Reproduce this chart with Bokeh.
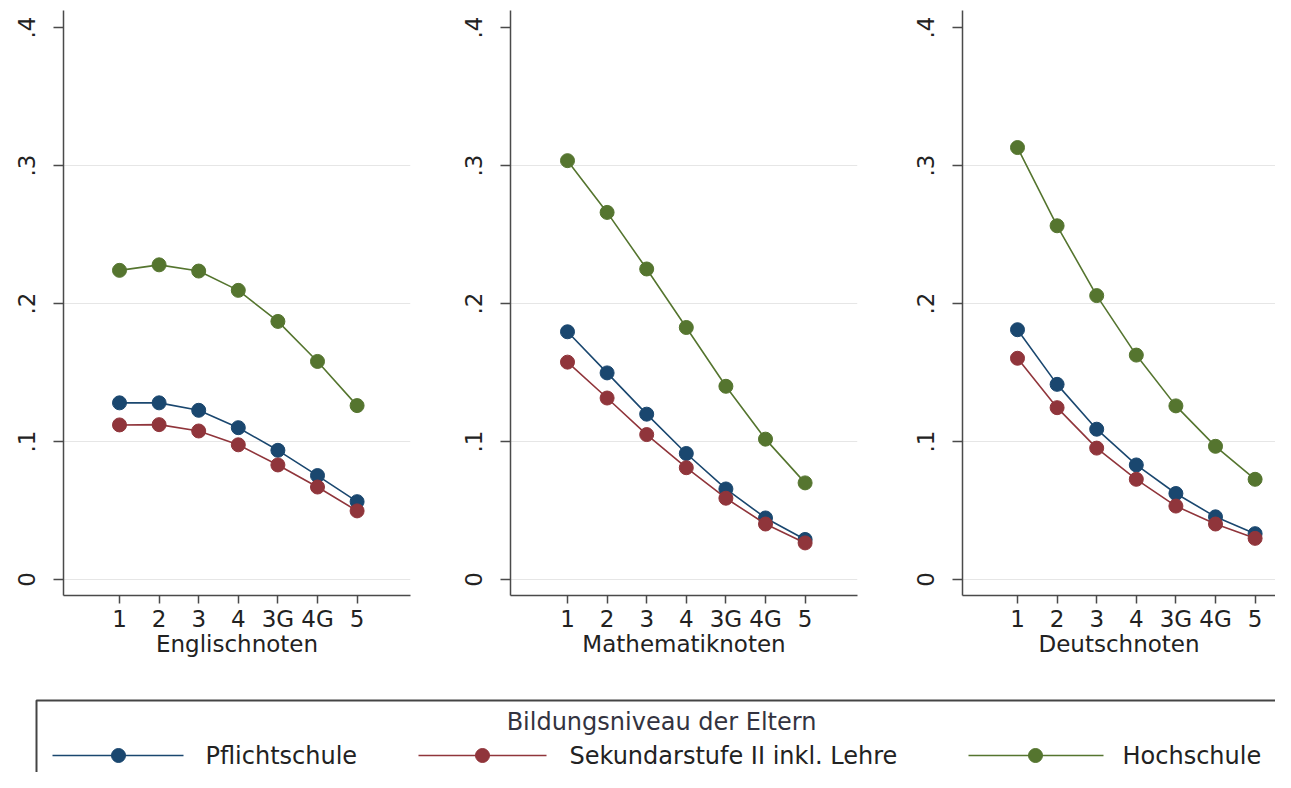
from bokeh.plotting import figure
from bokeh.layouts import row, column
from bokeh.models import FixedTicker, Range1d
from bokeh.embed import file_html
from bokeh.resources import INLINE
from bokeh.core.properties import value

# ---------------- data ----------------
grade_labels = ["1", "2", "3", "4", "3G", "4G", "5"]
grade_pos = [1, 2, 3, 4, 5, 6, 7]

series_names = ["Pflichtschule", "Sekundarstufe II inkl. Lehre", "Hochschule"]
series_colors = ["#1a476f", "#90353b", "#55752f"]

subjects = ["Englischnoten", "Mathematiknoten", "Deutschnoten"]

englisch_pflicht = [0.128, 0.128, 0.1226, 0.110, 0.0936, 0.0753, 0.0564]
englisch_sek = [0.112, 0.1122, 0.1076, 0.0976, 0.083, 0.067, 0.0497]
englisch_hoch = [0.224, 0.228, 0.2235, 0.2095, 0.187, 0.158, 0.126]

mathe_pflicht = [0.1795, 0.1497, 0.1198, 0.0913, 0.0656, 0.0446, 0.029]
mathe_sek = [0.1575, 0.1315, 0.105, 0.081, 0.0589, 0.0402, 0.0265]
mathe_hoch = [0.3035, 0.266, 0.225, 0.1826, 0.140, 0.1017, 0.070]

deutsch_pflicht = [0.181, 0.1414, 0.1089, 0.083, 0.0623, 0.0454, 0.0332]
deutsch_sek = [0.1603, 0.1245, 0.0952, 0.0726, 0.0532, 0.0402, 0.0298]
deutsch_hoch = [0.313, 0.2563, 0.2057, 0.1626, 0.1258, 0.0965, 0.0726]

y_ticks = [0, 0.1, 0.2, 0.3, 0.4]
y_tick_labels = ["0", ".1", ".2", ".3", ".4"]
grid_ticks = [0, 0.1, 0.2, 0.3]

legend_title = "Bildungsniveau der Eltern"

panel_series = [
    [englisch_pflicht, englisch_sek, englisch_hoch],
    [mathe_pflicht, mathe_sek, mathe_hoch],
    [deutsch_pflicht, deutsch_sek, deutsch_hoch],
]

FONT = "DejaVu Sans"
TXT = "#222222"
AX = "#4a4a4a"
PX_PER_GRADE = 39.6


def make_panel(title, series, width, left, right, first_offset):
    frame_w = width - left - right
    x_start = 1 - first_offset / PX_PER_GRADE
    x_end = x_start + frame_w / PX_PER_GRADE
    p = figure(width=width, height=672,
               x_range=Range1d(x_start, x_end), y_range=Range1d(-0.0116, 0.4123),
               output_backend="svg", toolbar_location=None,
               min_border_left=left, min_border_right=right,
               min_border_top=10, min_border_bottom=77)
    p.outline_line_color = None
    p.background_fill_color = "white"
    p.border_fill_color = "white"

    p.xgrid.visible = False
    p.ygrid.ticker = FixedTicker(ticks=grid_ticks)
    p.ygrid.grid_line_color = "#e6e6e6"
    p.ygrid.grid_line_width = 1

    p.xaxis.ticker = FixedTicker(ticks=grade_pos)
    p.xaxis.major_label_overrides = {pos: lab for pos, lab in zip(grade_pos, grade_labels)}
    p.yaxis.ticker = FixedTicker(ticks=y_ticks)
    p.yaxis.major_label_overrides = {t: l for t, l in zip(y_ticks, y_tick_labels)}
    p.yaxis.major_label_orientation = "vertical"

    for ax in (p.xaxis, p.yaxis):
        ax.axis_line_color = AX
        ax.axis_line_width = 1.5
        ax.major_tick_line_color = AX
        ax.major_tick_line_width = 1.5
        ax.major_tick_in = 0
        ax.minor_tick_line_color = None
        ax.major_label_text_font = FONT
        ax.major_label_text_font_size = "23px"
        ax.major_label_text_color = TXT
    p.xaxis.major_tick_out = 8
    p.yaxis.major_tick_out = 10
    p.xaxis.major_label_standoff = 2
    p.yaxis.major_label_standoff = 18

    p.xaxis.axis_label = title
    p.xaxis.axis_label_text_font = FONT
    p.xaxis.axis_label_text_font_size = "23px"
    p.xaxis.axis_label_text_font_style = "normal"
    p.xaxis.axis_label_text_color = TXT
    p.xaxis.axis_label_standoff = -4

    for vals, color in zip(series, series_colors):
        p.line(grade_pos, vals, line_color=color, line_width=1.6)
        p.scatter(grade_pos, vals, size=14, fill_color=color, line_color=color)
    return p


p1 = make_panel(subjects[0], panel_series[0], 430, 63, 20, 56)
p2 = make_panel(subjects[1], panel_series[1], 450, 80, 23, 57)
p3 = make_panel(subjects[2], panel_series[2], 395, 82, 0, 55)

# ---------------- legend ----------------
LEG_H = 100
leg = figure(width=1275, height=LEG_H, x_range=Range1d(0, 1275), y_range=Range1d(0, LEG_H),
             output_backend="svg", toolbar_location=None,
             x_axis_type=None, y_axis_type=None,
             min_border_left=0, min_border_right=0, min_border_top=0, min_border_bottom=0)
leg.outline_line_color = None
leg.grid.visible = False
leg.background_fill_color = "white"
leg.border_fill_color = "white"

leg.quad(left=[36], right=[1287], bottom=[-20], top=[72], fill_color=None,
         line_color="#444444", line_width=2)
leg.text(x=[661], y=[51], text=[legend_title], text_align="center", text_baseline="middle",
         text_font=value(FONT), text_font_size="24px", text_color="#333340")

item_line_x = [(52, 183), (418, 546), (968, 1103)]
item_marker_x = [118, 482, 1035]
item_text_x = [205, 569, 1122]
item_y = 17
for name, color, (x0, x1), mx, tx in zip(series_names, series_colors, item_line_x, item_marker_x, item_text_x):
    leg.line([x0, x1], [item_y, item_y], line_color=color, line_width=1.6)
    leg.scatter([mx], [item_y], size=14, fill_color=color, line_color=color)
    leg.text(x=[tx], y=[item_y], text=[name], text_align="left", text_baseline="middle",
             text_font=value(FONT), text_font_size="24px", text_color=TXT)

layout = column(row(p1, p2, p3), leg)

open("out.html", "w").write(file_html(layout, INLINE))
